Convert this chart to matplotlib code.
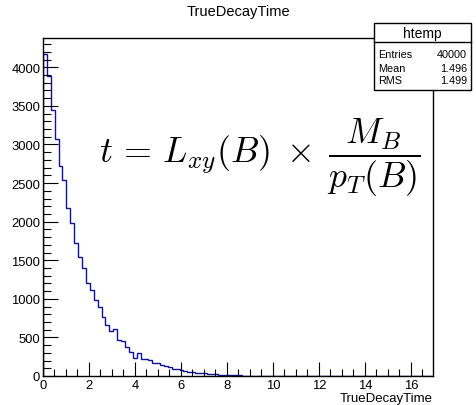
import numpy as np
import matplotlib
matplotlib.use('Agg')
import matplotlib.pyplot as plt
from matplotlib.ticker import MultipleLocator

plt.rcParams['font.family'] = ['Liberation Sans', 'DejaVu Sans']
plt.rcParams['mathtext.fontset'] = 'cm'

# histogram content (100 bins, 0 .. 16.96)
x_min = 0.0
x_max = 16.96
counts = [4173, 3883, 3445, 3069, 2722, 2536, 2182, 1978, 1718, 1545,
          1403, 1208, 1108, 991, 891, 766, 657, 588, 614, 462,
          449, 371, 306, 234, 299, 221, 214, 208, 172, 165,
          138, 125, 112, 88, 95, 74, 68, 56, 50, 42,
          38, 36, 26, 22, 20, 18, 15, 10, 9, 8,
          7, 6, 5, 4, 4, 3, 2, 3, 2, 1,
          1, 0, 1, 0, 0, 0, 0, 1, 0, 0,
          0, 0, 0, 0, 0, 0, 0, 0, 0, 0,
          0, 0, 0, 0, 0, 0, 0, 0, 0, 0,
          0, 0, 0, 0, 0, 0, 0, 0, 0, 0]
hist_name = 'htemp'
var_name = 'TrueDecayTime'
stats_labels = ['Entries', 'Mean', 'RMS']
stats_values = ['40000', '1.496', '1.499']
formula = r'$t\, =\, L_{xy}(B)\; \times\; \dfrac{M_B}{p_T(B)}$'

edges = np.linspace(x_min, x_max, len(counts) + 1)

fig = plt.figure(figsize=(4.77, 4.06), dpi=100)
ax = fig.add_axes([43/477, 29/406, 390/477, 338/406])

ax.stairs(counts, edges, color='#10109c', lw=1.0, baseline=0)
ax.set_xlim(x_min, x_max)
ax.set_ylim(0, 4380)

ax.xaxis.set_major_locator(MultipleLocator(2))
ax.xaxis.set_minor_locator(MultipleLocator(0.5))
ax.yaxis.set_major_locator(MultipleLocator(500))
ax.yaxis.set_minor_locator(MultipleLocator(100))
ax.tick_params(which='both', direction='in', top=False, right=False,
               labelsize=9.4, pad=2, width=0.8, color='black')
ax.tick_params(which='major', length=11)
ax.tick_params(which='minor', length=6)
ax.tick_params(axis='x', which='major', length=10)
ax.tick_params(axis='x', which='minor', length=5)
for s in ax.spines.values():
    s.set_linewidth(1.0)
    s.set_zorder(5)

ax.set_xlabel(var_name, fontsize=9.5, loc='right', labelpad=1)
fig.text(0.5, 1 - 12/406, var_name, ha='center', va='center', fontsize=10.5)

# formula
ax.text(260/477, 1 - 158/406, formula, transform=fig.transFigure,
        ha='center', va='center', fontsize=25.8)

# stats box
bx0, bx1 = 374/477, 471/477
by_top, by_head, by_bot = 1 - 24/406, 1 - 43/406, 1 - 91/406
box = plt.Rectangle((bx0, by_bot), bx1 - bx0, by_top - by_bot,
                    transform=fig.transFigure, facecolor='white',
                    edgecolor='black', lw=1.0, zorder=10)
fig.patches.append(box)
fig.lines.append(plt.Line2D([bx0, bx1], [by_head, by_head],
                            transform=fig.transFigure, color='black', lw=1.0, zorder=11))
fig.text((bx0 + bx1) / 2, 1 - 34/406, hist_name, ha='center', va='center',
         fontsize=10, zorder=12)
row_y = [55, 68.5, 81.5]
for lab, val, yy in zip(stats_labels, stats_values, row_y):
    fig.text(378/477, 1 - yy/406, lab, ha='left', va='center', fontsize=7.8, zorder=12)
    fig.text(467/477, 1 - yy/406, val, ha='right', va='center', fontsize=7.8, zorder=12)

fig.savefig('out.png', dpi=100, facecolor='white')
